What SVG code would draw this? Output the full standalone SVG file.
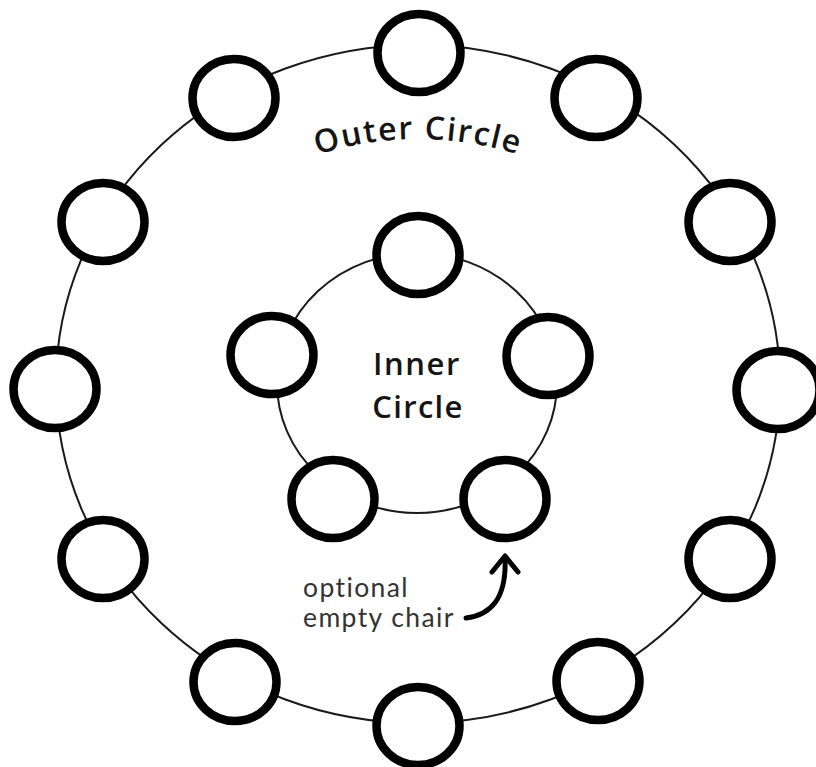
<svg xmlns="http://www.w3.org/2000/svg" width="816" height="767" viewBox="0 0 816 767">
<style>
.ring{fill:none;stroke:#1a1a1a;stroke-width:2}
.chair{fill:#fff;stroke:#000;stroke-width:8.5}
.title{font-family:"Open Sans",Lato,"Liberation Sans",sans-serif;font-weight:600;fill:#151515}
.label{font-family:Lato,"Open Sans","Liberation Sans",sans-serif;font-weight:400;fill:#333;font-size:26.5px;letter-spacing:1.4px}
.arrow{fill:none;stroke:#000;stroke-width:5;stroke-linecap:round;stroke-linejoin:round}
</style>
<defs>
<path id="outerArc" d="M 288 165.7 A 330 330 0 0 1 548 165.7"/>
</defs>
<rect width="816" height="767" fill="#fff"/>
<g id="connectors">
<ellipse class="ring" cx="418" cy="384" rx="362" ry="339"/>
<ellipse class="ring" cx="417" cy="383" rx="140" ry="130"/>
<path class="arrow" d="M 466 618 C 490 615 507 600 505 557"/>
<path class="arrow" d="M 492 572 L 505 556 L 518 572"/>
</g>
<g id="outer-chair-1"><ellipse class="chair" cx="419" cy="53" rx="41.5" ry="39"/></g>
<g id="outer-chair-2"><ellipse class="chair" cx="596" cy="98" rx="41.5" ry="39"/></g>
<g id="outer-chair-3"><ellipse class="chair" cx="730" cy="222" rx="41.5" ry="39"/></g>
<g id="outer-chair-4"><ellipse class="chair" cx="778" cy="390" rx="41.5" ry="39"/></g>
<g id="outer-chair-5"><ellipse class="chair" cx="730" cy="559" rx="41.5" ry="39"/></g>
<g id="outer-chair-6"><ellipse class="chair" cx="598" cy="681" rx="41.5" ry="39"/></g>
<g id="outer-chair-7"><ellipse class="chair" cx="418" cy="726" rx="41.5" ry="39"/></g>
<g id="outer-chair-8"><ellipse class="chair" cx="235" cy="682" rx="41.5" ry="39"/></g>
<g id="outer-chair-9"><ellipse class="chair" cx="103" cy="559" rx="41.5" ry="39"/></g>
<g id="outer-chair-10"><ellipse class="chair" cx="55" cy="389" rx="41.5" ry="39"/></g>
<g id="outer-chair-11"><ellipse class="chair" cx="103" cy="222" rx="41.5" ry="39"/></g>
<g id="outer-chair-12"><ellipse class="chair" cx="234" cy="98" rx="41.5" ry="39"/></g>
<g id="inner-chair-1"><ellipse class="chair" cx="418" cy="255" rx="41.5" ry="39"/></g>
<g id="inner-chair-2"><ellipse class="chair" cx="548" cy="356" rx="41.5" ry="39"/></g>
<g id="inner-chair-3"><ellipse class="chair" cx="505" cy="499" rx="41.5" ry="39"/></g>
<g id="inner-chair-4"><ellipse class="chair" cx="333" cy="499" rx="41.5" ry="39"/></g>
<g id="inner-chair-5"><ellipse class="chair" cx="272" cy="355" rx="41.5" ry="39"/></g>
<g id="outer-label">
<text class="title" font-size="32" letter-spacing="1.6" text-anchor="middle"><textPath href="#outerArc" startOffset="50%">Outer Circle</textPath></text>
</g>
<g id="inner-label">
<text class="title" font-size="31" letter-spacing="1.6" text-anchor="middle" x="417" y="375">Inner</text>
<text class="title" font-size="31" letter-spacing="1.3" text-anchor="middle" x="418" y="418">Circle</text>
</g>
<g id="empty-chair-label">
<text class="label" x="303" y="597">optional</text>
<text class="label" x="303" y="627">empty chair</text>
</g>
</svg>
